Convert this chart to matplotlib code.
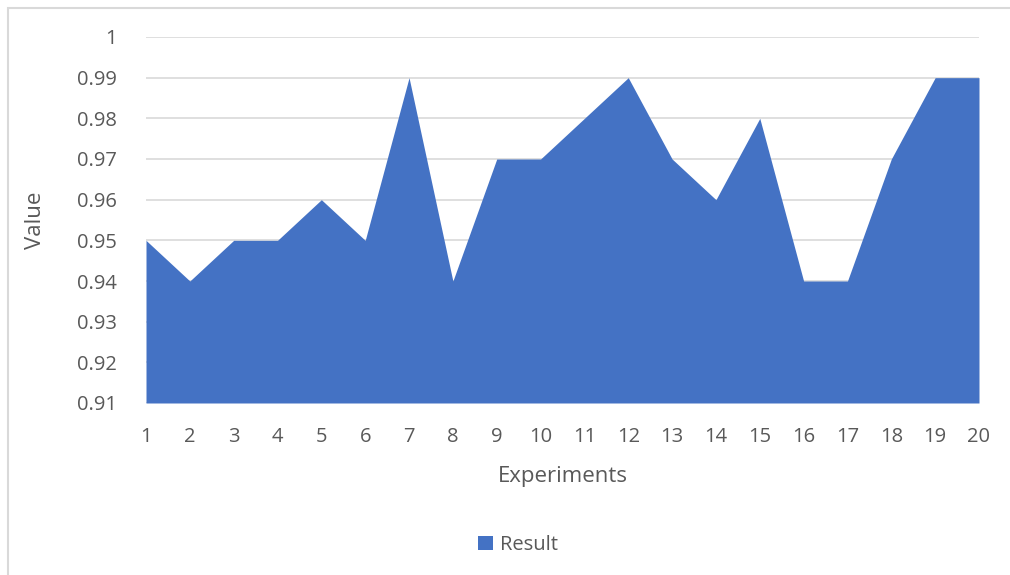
import matplotlib
matplotlib.use("Agg")
import matplotlib.pyplot as plt
from matplotlib.patches import Rectangle

experiments = list(range(1, 21))
values = [0.95, 0.94, 0.95, 0.95, 0.96, 0.95, 0.99, 0.94, 0.97, 0.97,
          0.98, 0.99, 0.97, 0.96, 0.98, 0.94, 0.94, 0.97, 0.99, 0.99]
yticks = [0.91, 0.92, 0.93, 0.94, 0.95, 0.96, 0.97, 0.98, 0.99, 1.0]
ytick_labels = ["0.91", "0.92", "0.93", "0.94", "0.95", "0.96", "0.97", "0.98", "0.99", "1"]

W, H = 1010, 575
plt.rcParams['font.family'] = ['Open Sans', 'DejaVu Sans']
fig = plt.figure(figsize=(W / 100, H / 100), dpi=100)

# outer chart border
fig.patches.append(Rectangle((7.5 / W, -0.05), 1.2, (H - 7.5) / H + 0.05, transform=fig.transFigure,
                             fill=False, edgecolor="#d9d9d9", linewidth=1.5))

left, right, top, bottom = 146, 979, 37, 403
ax = fig.add_axes([left / W, 1 - bottom / H, (right - left) / W, (bottom - top) / H])
color = "#4472C4"
ax.fill_between(experiments, values, 0.91, color=color, linewidth=0, zorder=3, label="Result")
ax.set_xlim(1, 20)
ax.set_ylim(0.91, 1.0)
ax.set_yticks(yticks)
ax.set_yticklabels(ytick_labels)
ax.set_xticks(experiments)
ax.grid(axis="y", color="#d9d9d9", linewidth=1.2, zorder=0)
for s in ax.spines.values():
    s.set_visible(False)
ax.tick_params(axis="both", length=0, colors="#595959", labelsize=14.5)
ax.tick_params(axis="y", pad=21)
ax.tick_params(axis="x", pad=17)
ax.set_xlabel("Experiments", fontsize=16, color="#595959", labelpad=14)
ax.set_ylabel("Value", fontsize=16, color="#595959", labelpad=22)

leg = fig.legend(loc="center", bbox_to_anchor=(518 / W, 1 - 545 / H), frameon=False,
                 fontsize=14.5, handlelength=0.75, handleheight=0.75, handletextpad=0.35,
                 labelcolor="#595959")

fig.savefig("out.png", dpi=100)
